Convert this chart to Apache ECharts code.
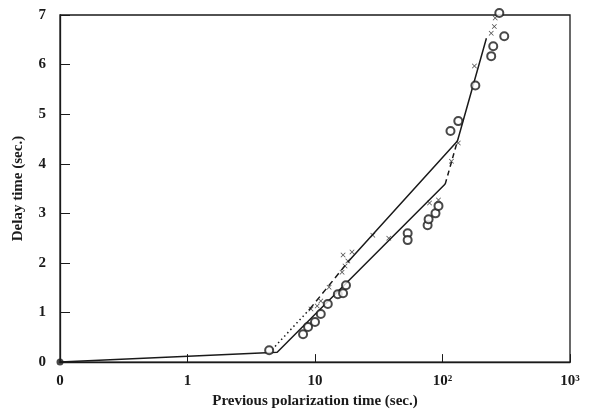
<!DOCTYPE html>
<html><head><meta charset="utf-8">
<script src="https://cdn.jsdelivr.net/npm/echarts@6/dist/echarts.min.js"></script>
<style>html,body{margin:0;padding:0;background:#fff}#c{width:589px;height:414px}</style>
</head><body><div id="c"></div>
<script>
// Tick labels (log axis: "0" stands at 0.1 s)
const xTickValues = [0.1, 1, 10, 100, 1000];
const xTickLabels = ['0', '1', '10', '10²', '10³'];
const yTickLabels = ['0','1','2','3','4','5','6','7'];

// Fitted lines
const lowerLineSolid = [[0.1, 0], [5.05, 0.2], [105, 3.59]];
const lowerLineDashed = [[105, 3.59], [131, 4.46]];
const upperLineDotted = [[4.6, 0.25], [9.1, 1.07]];
const upperLineDashed = [[9.1, 1.07], [18.7, 2.06]];
const upperLineSolid = [[18.7, 2.06], [131, 4.46], [221, 6.53]];

// Measured points
const circlePoints = [
  [4.37,0.24],[8.06,0.56],[8.82,0.71],[10.0,0.81],[11.1,0.97],[12.6,1.17],
  [15.1,1.37],[16.6,1.39],[17.5,1.55],[53.3,2.60],[53.3,2.46],[76.4,2.76],
  [77.8,2.88],[88.1,3.00],[93.0,3.15],[115.5,4.66],[133,4.86],[181,5.58],
  [241,6.17],[250,6.37],[305,6.57],[279,7.04]
];
const crossPoints = [
  [9.3,1.07],[10.4,1.13],[11.1,1.23],[12.9,1.51],[16.3,1.81],[17.2,1.94],
  [16.6,2.16],[19.5,2.22],[18.1,2.04],[28.4,2.56],[37.9,2.50],[79.1,3.21],
  [93.0,3.27],[117.5,4.05],[133,4.42],[178,5.97],[241,6.63],[255,6.77],[259,6.94]
];
const originPoint = [[0.1, 0]];

const ink = '#1a1a1a';
const font = 'Liberation Serif';
const chart = echarts.init(document.getElementById('c'), null, {renderer:'canvas'});
const lineSeries = (data, type) => ({
  type: 'line', data: data, showSymbol: false, symbol: 'none', silent: true,
  lineStyle: {color: ink, width: 1.5, type: type}, z: 2
});
chart.setOption({
  animation: false,
  backgroundColor: '#fff',
  grid: {left: 60, right: 19, top: 15, bottom: 47, show: true, borderColor: ink, borderWidth: 1.3},
  xAxis: {
    type: 'log', logBase: 10, min: 0.1, max: 1000,
    name: 'Previous polarization time (sec.)', nameLocation: 'middle', nameGap: 29,
    nameTextStyle: {fontFamily: font, fontWeight: 'bold', fontSize: 15, color: ink},
    axisLine: {lineStyle: {color: ink, width: 1.3}},
    axisTick: {inside: true, length: 8, lineStyle: {color: ink}},
    minorTick: {show: false},
    splitLine: {show: false},
    axisLabel: {
      fontFamily: font, fontWeight: 'bold', fontSize: 15, color: ink, margin: 12,
      formatter: v => {
        const i = xTickValues.findIndex(t => Math.abs(Math.log10(t) - Math.log10(v)) < 0.01);
        return i >= 0 ? xTickLabels[i] : '';
      }
    }
  },
  yAxis: {
    type: 'value', min: 0, max: 7, interval: 1,
    name: 'Delay time (sec.)', nameLocation: 'middle', nameGap: 34,
    nameTextStyle: {fontFamily: font, fontWeight: 'bold', fontSize: 15, color: ink},
    axisLine: {show: true, lineStyle: {color: ink, width: 1.3}},
    axisTick: {show: true, inside: true, length: 10, lineStyle: {color: ink}},
    splitLine: {show: false},
    axisLabel: {fontFamily: font, fontWeight: 'bold', fontSize: 15, color: ink, margin: 14,
      formatter: v => yTickLabels[Math.round(v)]}
  },
  series: [
    lineSeries(lowerLineSolid, 'solid'),
    lineSeries(lowerLineDashed, [5, 4]),
    lineSeries(upperLineDotted, [1.5, 3]),
    lineSeries(upperLineDashed, [6, 4]),
    lineSeries(upperLineSolid, 'solid'),
    {type: 'scatter', data: circlePoints, symbol: 'emptyCircle', symbolSize: 8, clip: false,
     itemStyle: {color: ink, borderColor: ink, borderWidth: 1.1}, z: 3},
    {type: 'scatter', data: crossPoints, clip: false,
     symbol: 'path://M0,1L1,0L5,4L9,0L10,1L6,5L10,9L9,10L5,6L1,10L0,9L4,5Z', symbolSize: 5,
     itemStyle: {color: ink}, z: 4},
    {type: 'scatter', data: originPoint, symbol: 'circle', symbolSize: 7, clip: false,
     itemStyle: {color: ink}, z: 5}
  ]
});
</script></body></html>
